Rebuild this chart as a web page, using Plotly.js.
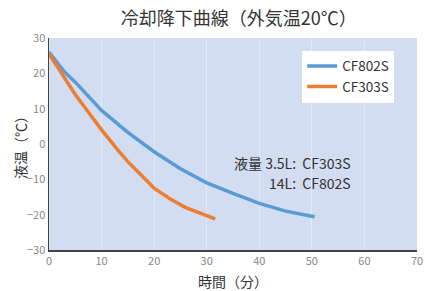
<!DOCTYPE html>
<html><head><meta charset="utf-8">
<script src="https://cdn.plot.ly/plotly-3.0.1.min.js"></script>
<style>html,body{margin:0;padding:0;background:#fff}#c{width:425px;height:291px}</style>
</head><body><div id="c"></div>
<script>
const blueT = [0, 3, 5, 10, 15, 20, 25, 30, 35, 40, 45, 50.5];
const blueV = [26, 20.3, 17.5, 9.5, 3.3, -2.2, -7, -11, -14, -16.8, -19, -20.6];
const orangeT = [0, 3, 5, 8, 10, 13, 15, 18, 20, 23, 26, 29, 31.6];
const orangeV = [25.5, 18.5, 14, 8, 4, -1.5, -5, -9.5, -12.5, -15.5, -18, -19.7, -21.2];
const xTicks = [0, 10, 20, 30, 40, 50, 60, 70];
const yTicks = [30, 20, 10, 0, -10, -20, -30];
const font = '"Noto Sans CJK JP", "Noto Sans", sans-serif';
const data = [
  {x: blueT, y: blueV, name: 'CF802S', mode: 'lines', line: {color: '#5b9bd5', width: 3.5}},
  {x: orangeT, y: orangeV, name: 'CF303S', mode: 'lines', line: {color: '#ed7d31', width: 3.5}}
];
const layout = {
  width: 425, height: 291,
  margin: {l: 49, r: 8, t: 38, b: 41},
  paper_bgcolor: '#ffffff', plot_bgcolor: '#d2ddf1',
  font: {family: font, color: '#333'},
  title: {text: '冷却降下曲線（外気温20℃）', x: 0.562, xanchor: 'center', y: 0.935, yanchor: 'middle', font: {size: 18, color: '#333', family: font}},
  xaxis: {range: [0, 70], tickvals: xTicks, ticks: '', showline: true, linecolor: '#444', linewidth: 1.5,
    showgrid: true, gridcolor: 'rgba(255,255,255,0.35)', zeroline: false,
    tickfont: {size: 11, color: '#888'}, title: {text: '時間（分）', font: {size: 14, color: '#333'}, standoff: 11}},
  yaxis: {range: [-30, 30], tickvals: yTicks, ticks: '', showline: true, linecolor: '#444', linewidth: 1.5,
    showgrid: false, zeroline: false,
    tickfont: {size: 11, color: '#888'}},
  legend: {x: 0.688, y: 0.94, xanchor: 'left', yanchor: 'top', bgcolor: '#ffffff', borderwidth: 0,
    font: {size: 13.5, color: '#333'}, tracegroupgap: 0, itemwidth: 30},
  annotations: [
    {xref: 'paper', yref: 'paper', x: -0.079, y: 0.5, xanchor: 'center', yanchor: 'middle', showarrow: false,
     textangle: -90, text: '液温（℃）', font: {size: 14, color: '#333'}},
    {xref: 'paper', yref: 'paper', x: 0.825, y: 0.412, xanchor: 'right', yanchor: 'middle', showarrow: false,
     text: '液量 3.5L:  CF303S', font: {size: 14, color: '#333'}},
    {xref: 'paper', yref: 'paper', x: 0.825, y: 0.318, xanchor: 'right', yanchor: 'middle', showarrow: false,
     text: '14L:  CF802S', font: {size: 14, color: '#333'}}
  ],
  showlegend: true
};
Plotly.newPlot('c', data, layout, {displayModeBar: false, staticPlot: true});
</script></body></html>
